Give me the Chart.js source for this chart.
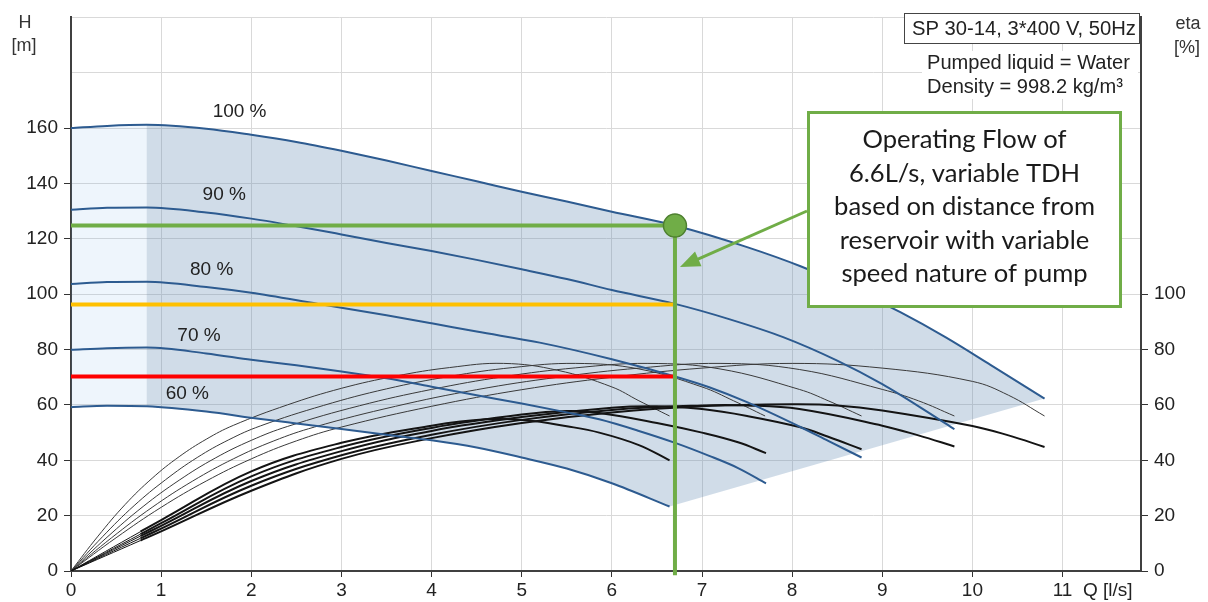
<!DOCTYPE html>
<html><head><meta charset="utf-8">
<script src="https://cdn.jsdelivr.net/npm/chart.js@4.4.1/dist/chart.umd.min.js"></script>
<style>html,body{margin:0;padding:0;background:#fff;}#wrap{width:1208px;height:602px;position:relative;}</style>
</head><body><div id="wrap"><canvas id="c" width="1208" height="602"></canvas></div>
<script>
// ---------- DATA ----------
const xTickValues = [0,1,2,3,4,5,6,7,8,9,10,11];
const hTickValues = [0,20,40,60,80,100,120,140,160];
const etaTickValues = [0,20,40,60,80,100];
const speedLabels = ['100 %','90 %','80 %','70 %','60 %'];

// Head curves (Q [l/s], H [m])
const q100 = [0,0.4,0.84,1.5,2,2.5,3,3.5,4,4.5,5,5.5,6,6.7,7.5,8.1,8.7,9.2,9.7,10.2,10.8];
const h100 = [160,160.8,161.2,159.8,157.6,155,151.8,148.3,144.5,140.8,137,133.5,129.8,124.8,117,110,101.5,93.5,84.5,74.5,62.3];
const q90 = [0,0.4,0.84,1.5,2,2.55,3,3.5,4,4.5,5,5.5,6,6.7,7.3,7.9,8.5,9,9.5,9.8];
const h90 = [130.5,131.2,131.3,129.5,127.3,124.3,121.6,118.5,115.6,112.4,109,105.5,101.5,96.5,91,84.5,76,67.5,57.5,51.2];
const q80 = [0,0.4,0.84,1.5,2,2.74,3.5,4,4.5,5.2,6,6.71,7.08,7.5,8.08,8.4,8.77];
const h80 = [103.7,104.4,104.5,102.6,100.5,96.5,92.4,89.5,86.5,82.5,76.5,70.2,66.4,61,52.2,47,41];
const q70 = [0,0.4,0.84,1.5,2,2.5,3,3.5,4,4.5,5,5.5,5.86,6.3,6.71,7.08,7.4,7.71];
const h70 = [79.9,80.5,80.7,78.6,76.3,74.3,72.1,69.6,66.6,63.5,60.5,57.3,54.8,50.6,46.2,41.6,37.2,31.7];
const q60 = [0,0.4,0.84,1.5,2.06,2.5,3,3.65,4,4.5,5,5.5,6,6.64];
const h60 = [59.2,59.7,59.5,57.6,55.1,53.3,51.3,48.6,47.2,44.6,41,37,31.7,23.3];

// Pump efficiency curves (eta [%]) – thin
const eq100 = [0,0.5,1,1.5,2,2.5,3,4,5,6,7,8,9,10,10.4,10.8];
const e100  = [0,12,23,32.5,40.5,47,52,59.5,65.5,70,73.3,75,73.3,68.5,63.5,56];
const eq90  = [0,0.45,0.9,1.35,1.8,2.25,2.7,3.6,4.5,5.4,6.3,7.2,8.08,9,9.4,9.8];
const e90   = [0,12,23,32.5,40.5,47,52,59.5,65.5,70,73.3,75,72.8,65.6,61.5,56];
const eq80  = [0,0.4,0.8,1.2,1.6,2,2.4,3.2,4,4.8,5.6,6.4,7.2,8.08,8.4,8.77];
const e80   = [0,12.2,23.3,32.8,40.8,47.2,52.2,59.7,65.6,70.2,73.4,75,73,65.6,61.5,56];
const eq70  = [0,0.35,0.7,1.05,1.4,1.75,2.1,2.8,3.5,4.2,4.9,5.6,6.3,7,7.35,7.7];
const e70   = [0,12.4,23.6,33,41,47.4,52.4,59.8,65.8,70.3,73.5,75,73,66.5,61.5,56];
const eq60  = [0,0.3,0.6,0.9,1.2,1.5,1.8,2.4,3,3.6,4.2,4.8,5.4,6,6.3,6.64];
const e60   = [0,12.6,24,33.5,41.3,47.6,52.6,60,66,70.4,73.5,75,72.5,66.5,61.5,56];

// Total efficiency curves (eta [%]) – thick
const tq100 = [0,0.77,1,2,3,4,5,6,7,8,8.5,9,10,10.4,10.8];
const t100  = [0,11,14.3,29,40.5,48,53.5,57.3,59.5,60.2,59.8,58,52.4,49,44.8];
const tq90  = [0,0.77,1,2,3,4,5,6,7,7.5,8.08,9,9.4,9.8];
const t90   = [0,11.8,15.3,30.8,41.8,49.2,54.6,58.2,59.8,59.8,58.5,52.5,49,45];
const tq80  = [0,0.77,1,2,3,4,5,6,6.5,7,7.5,8.08,8.4,8.77];
const t80   = [0,12.6,16.3,32.5,43.3,50.6,55.6,59,59.5,58.5,56,52,48.5,44];
const tq70  = [0,0.77,1,2,3,4,5,5.5,5.86,6.5,7,7.4,7.71];
const t70   = [0,13.3,17.3,34.2,44.8,51.7,56.5,57.8,57.1,53.5,50,46.5,42.6];
const tq60  = [0,0.77,1,2,3,4,4.6,5.05,5.5,5.86,6.3,6.64];
const t60   = [0,14.2,18.4,36,46.3,52.5,54.8,54.5,52.3,50,45.5,40];

// Operating point
const opFlow = 6.7;
const tdhGreen = 124.8, tdhOrange = 96.3, tdhRed = 70.3;
const shadeSplitQ = 0.84;

const noteLines = ['Operating Flow of','6.6L/s, variable TDH','based on distance from','reservoir with variable','speed nature of pump'];
const infoTitle = 'SP 30-14, 3*400 V, 50Hz';
const infoLines = ['Pumped liquid = Water','Density = 998.2 kg/m\u00B3'];

// ---------- CHART ----------
function pts(qs, vs){ return qs.map((q,i)=>({x:q,y:vs[i]})); }
const BLUE = '#2d5b90', GREEN = '#70ad47';
const FONT = "'Liberation Sans', Arial, sans-serif";

const datasets = [];
datasets.push({data: pts([opFlow],[tdhGreen]), showLine:false, pointRadius:11.5, pointBackgroundColor:GREEN, pointBorderColor:'#4e8030', pointBorderWidth:1.5, yAxisID:'y'});
datasets.push({data: pts([opFlow,opFlow],[tdhGreen,-1.5]), borderColor:GREEN, borderWidth:4, clip:false, yAxisID:'y'});
datasets.push({data: pts([0,opFlow],[tdhGreen,tdhGreen]), borderColor:GREEN, borderWidth:4, yAxisID:'y'});
datasets.push({data: pts([0,opFlow],[tdhOrange,tdhOrange]), borderColor:'#ffc000', borderWidth:4, yAxisID:'y'});
datasets.push({data: pts([0,opFlow],[tdhRed,tdhRed]), borderColor:'#ff0000', borderWidth:4, yAxisID:'y'});
[[q100,h100],[q90,h90],[q80,h80],[q70,h70],[q60,h60]].forEach(c=>{
  datasets.push({data: pts(c[0],c[1]), borderColor:BLUE, borderWidth:2, cubicInterpolationMode:'monotone', yAxisID:'y'});
});
[[tq100,t100],[tq90,t90],[tq80,t80],[tq70,t70],[tq60,t60]].forEach(c=>{
  datasets.push({data: pts(c[0],c[1]), borderColor:'#141414', borderWidth:2, tension:0.4, yAxisID:'y2',
    segment:{borderWidth: s => s.p1.parsed.x <= 0.78 ? 1 : 2}});
});
[[eq100,e100],[eq90,e90],[eq80,e80],[eq70,e70],[eq60,e60]].forEach(c=>{
  datasets.push({data: pts(c[0],c[1]), borderColor:'#3a3a3a', borderWidth:1, tension:0.4, yAxisID:'y2'});
});
datasets.forEach(d=>{ d.showLine = d.showLine!==false; if(d.pointRadius===undefined) d.pointRadius=0; d.fill=false; });

const shadePlugin = {
  id:'shade',
  beforeDatasetsDraw(chart){
    const {ctx, chartArea:a, scales:{x,y}} = chart;
    const P = (q,h)=>[x.getPixelForValue(q), y.getPixelForValue(h)];
    ctx.save();
    ctx.beginPath(); ctx.rect(a.left,a.top,a.right-a.left,a.bottom-a.top); ctx.clip();
    let path = [];
    q100.forEach((q,i)=>{ if(q<=shadeSplitQ) path.push(P(q,h100[i])); });
    for(let i=q60.length-1;i>=0;i--){ if(q60[i]<=shadeSplitQ) path.push(P(q60[i],h60[i])); }
    ctx.beginPath(); path.forEach((p,i)=> i?ctx.lineTo(p[0],p[1]):ctx.moveTo(p[0],p[1])); ctx.closePath();
    ctx.fillStyle='rgba(100,160,230,0.11)'; ctx.fill();
    path = [];
    q100.forEach((q,i)=>{ if(q>=shadeSplitQ) path.push(P(q,h100[i])); });
    for(let i=q60.length-1;i>=0;i--){ if(q60[i]>=shadeSplitQ) path.push(P(q60[i],h60[i])); }
    ctx.beginPath(); path.forEach((p,i)=> i?ctx.lineTo(p[0],p[1]):ctx.moveTo(p[0],p[1])); ctx.closePath();
    ctx.fillStyle='rgba(100,140,180,0.30)'; ctx.fill();
    ctx.restore();
  }
};

function fitFont(ctx, family, text, width, base){
  ctx.font = base+'px '+family;
  const w = ctx.measureText(text).width;
  return base*width/w;
}

const textPlugin = {
  id:'texts',
  afterDraw(chart){
    const {ctx, scales:{x,y}} = chart;
    ctx.save();
    ctx.fillStyle='#222';
    ctx.textBaseline='middle';
    ctx.font = '19px '+FONT;
    const lab = [[1.87,165.8],[1.7,136],[1.56,109],[1.42,85],[1.29,64]];
    ctx.textAlign='center';
    lab.forEach((p,i)=> ctx.fillText(speedLabels[i], x.getPixelForValue(p[0]), y.getPixelForValue(p[1])));
    ctx.font = '18px '+FONT; ctx.fillStyle='#333';
    ctx.fillText('H', 25, 23); ctx.fillText('[m]', 24, 46);
    ctx.fillText('eta', 1188, 24); ctx.fillText('[%]', 1187, 48);
    ctx.font = '19px '+FONT; ctx.fillStyle='#222';
    ctx.textAlign='left';
    ctx.fillText('Q [l/s]', 1083, 591);
    ctx.fillStyle='#fff'; ctx.fillRect(904.5,13.5,235,30);
    ctx.strokeStyle='#444'; ctx.lineWidth=1; ctx.strokeRect(904.5,13.5,235,30);
    let fs = fitFont(ctx, FONT, infoTitle, 224, 20);
    ctx.font = fs+'px '+FONT; ctx.fillStyle='#222'; ctx.textAlign='center';
    ctx.fillText(infoTitle, 1024, 29);
    ctx.fillStyle='#fff'; ctx.fillRect(922,51,216,48);
    fs = fitFont(ctx, FONT, infoLines[0], 203, 20);
    ctx.font = fs+'px '+FONT; ctx.fillStyle='#222'; ctx.textAlign='left';
    ctx.fillText(infoLines[0], 927, 63);
    ctx.fillText(infoLines[1], 927, 87);
    ctx.fillStyle='#fff'; ctx.fillRect(808,112,313,195);
    ctx.strokeStyle=GREEN; ctx.lineWidth=3; ctx.strokeRect(808.5,112.5,312,194);
    fs = fitFont(ctx, "Lato, 'Open Sans', sans-serif", noteLines[2], 261, 24);
    ctx.font = fs+"px Lato, 'Open Sans', sans-serif"; ctx.fillStyle='#1a1a1a'; ctx.textAlign='center';
    noteLines.forEach((t,i)=> ctx.fillText(t, 964.5, 140 + i*33.5));
    const tipX = x.getPixelForValue(opFlow)+5, tipY = 267;
    const tailX = 807, tailY = 211;
    const dx = tipX-tailX, dy = tipY-tailY, L = Math.hypot(dx,dy), ux = dx/L, uy = dy/L;
    const hl = 20, hw = 8;
    ctx.strokeStyle=GREEN; ctx.lineWidth=3;
    ctx.beginPath(); ctx.moveTo(tailX,tailY); ctx.lineTo(tipX-ux*hl*0.8, tipY-uy*hl*0.8); ctx.stroke();
    ctx.fillStyle=GREEN; ctx.beginPath();
    ctx.moveTo(tipX,tipY);
    ctx.lineTo(tipX-ux*hl - uy*hw, tipY-uy*hl + ux*hw);
    ctx.lineTo(tipX-ux*hl + uy*hw, tipY-uy*hl - ux*hw);
    ctx.closePath(); ctx.fill();
    ctx.restore();
  }
};

Chart.defaults.font.family = FONT;
new Chart(document.getElementById('c'), {
  type:'scatter',
  data:{datasets},
  options:{
    responsive:false, animation:false,
    layout:{padding:{top:13,left:0,right:0,bottom:0}},
    plugins:{legend:{display:false}, tooltip:{enabled:false}},
    scales:{
      x:{type:'linear', position:'bottom', min:0, max:11.87,
        ticks:{stepSize:1, includeBounds:false, autoSkip:false, maxRotation:0, padding:2, color:'#222', font:{size:19},
          callback:v=> xTickValues.includes(v)? String(v):''},
        grid:{color:'#d9d9d9', lineWidth:1, tickLength:6, tickColor:'#333'},
        border:{display:true, color:'#404040', width:2},
        afterFit:s=>{s.height=31;}},
      y:{type:'linear', position:'left', min:0, max:200,
        ticks:{stepSize:20, padding:6, color:'#222', font:{size:19},
          callback:v=> hTickValues.includes(v)? String(v):''},
        grid:{color:'#d9d9d9', lineWidth:1, tickLength:7, tickColor:c=> hTickValues.includes(c.tick.value)?'#333':'rgba(0,0,0,0)'},
        border:{display:true, color:'#404040', width:2},
        afterFit:s=>{s.width=71;}},
      y2:{type:'linear', position:'right', min:0, max:200,
        ticks:{stepSize:20, padding:6, color:'#222', font:{size:19},
          callback:v=> etaTickValues.includes(v)? String(v):''},
        grid:{drawOnChartArea:false, tickLength:7, tickColor:c=> etaTickValues.includes(c.tick.value)?'#333':'rgba(0,0,0,0)'},
        border:{display:true, color:'#404040', width:2},
        afterFit:s=>{s.width=67;}}
    }
  },
  plugins:[shadePlugin, textPlugin]
});
</script></body></html>
